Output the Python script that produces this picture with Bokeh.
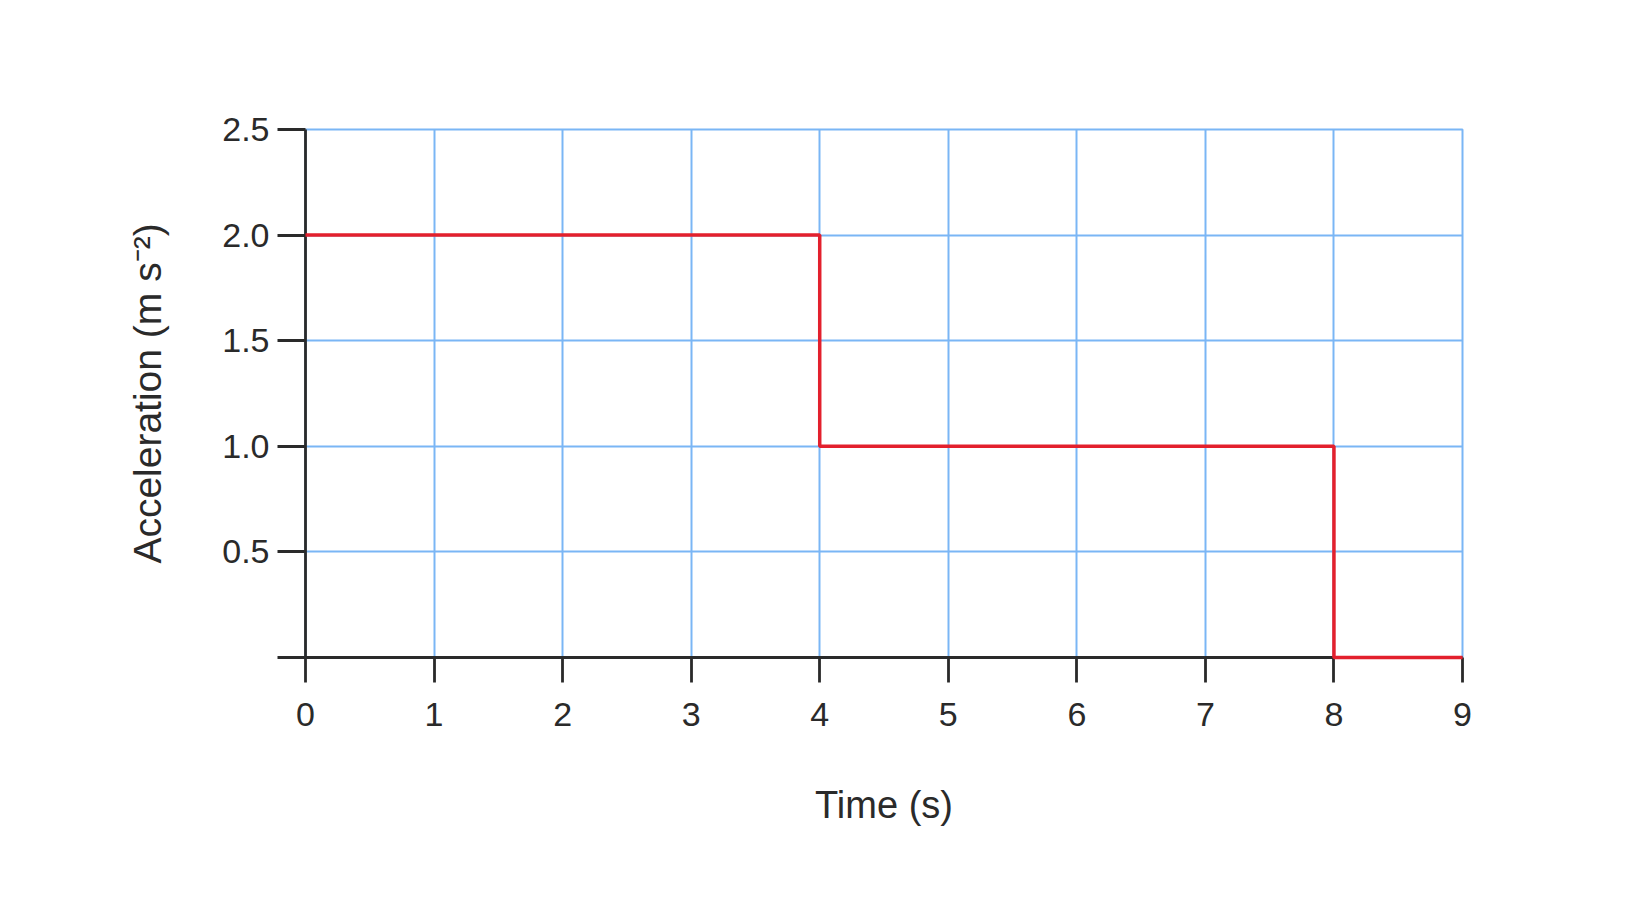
from bokeh.plotting import figure
from bokeh.models import Range1d, FixedTicker
from bokeh.embed import file_html
from bokeh.resources import INLINE

# Data
time_s = [0, 4, 8, 9]
accel = [2.0, 1.0, 0.0, 0.0]
x_ticks = [0, 1, 2, 3, 4, 5, 6, 7, 8, 9]
y_ticks = [0, 0.5, 1.0, 1.5, 2.0, 2.5]
y_tick_labels = ["", "0.5", "1.0", "1.5", "2.0", "2.5"]

FONT = "Liberation Sans"
TXT = "#2a2a2a"
GRID = "#7ab6f5"

p = figure(width=1636, height=888, output_backend="svg", toolbar_location=None,
           x_range=Range1d(0, 9), y_range=Range1d(0, 2.5),
           min_border_left=305, min_border_top=129, min_border_right=174,
           min_border_bottom=231)
p.outline_line_color = GRID
p.outline_line_width = 2
p.background_fill_color = "white"
p.border_fill_color = "white"

p.xgrid.ticker = FixedTicker(ticks=x_ticks)
p.ygrid.ticker = FixedTicker(ticks=y_ticks)
for g in (p.xgrid, p.ygrid):
    g.grid_line_color = GRID
    g.grid_line_width = 2

p.step(time_s, accel, mode="after", line_color="#e3202d", line_width=3.5,
       level="overlay")

for ax in (p.xaxis[0], p.yaxis[0]):
    ax.axis_line_color = TXT
    ax.axis_line_width = 2.8
    ax.major_tick_line_color = TXT
    ax.major_tick_line_width = 2.8
    ax.major_tick_in = 0
    ax.minor_tick_line_color = None
    ax.major_label_text_font = FONT
    ax.major_label_text_font_size = "34px"
    ax.major_label_text_color = TXT
    ax.axis_label_text_font = FONT
    ax.axis_label_text_font_style = "normal"
    ax.axis_label_text_color = TXT

p.xaxis.ticker = FixedTicker(ticks=x_ticks)
p.xaxis.major_tick_out = 25
p.xaxis.major_label_standoff = 20
p.xaxis.axis_label = "Time (s)"
p.xaxis.axis_label_text_font_size = "38px"
p.xaxis.axis_label_standoff = 55

p.yaxis.ticker = FixedTicker(ticks=y_ticks)
p.yaxis.major_label_overrides = {t: l for t, l in zip(y_ticks, y_tick_labels)}
p.yaxis.major_tick_out = 28
p.yaxis.major_label_standoff = 8
p.yaxis.axis_label = "Acceleration (m s\u207b\u00b2)"
p.yaxis.axis_label_text_font_size = "39px"
p.yaxis.axis_label_standoff = 50

open("out.html", "w").write(file_html(p, INLINE))
